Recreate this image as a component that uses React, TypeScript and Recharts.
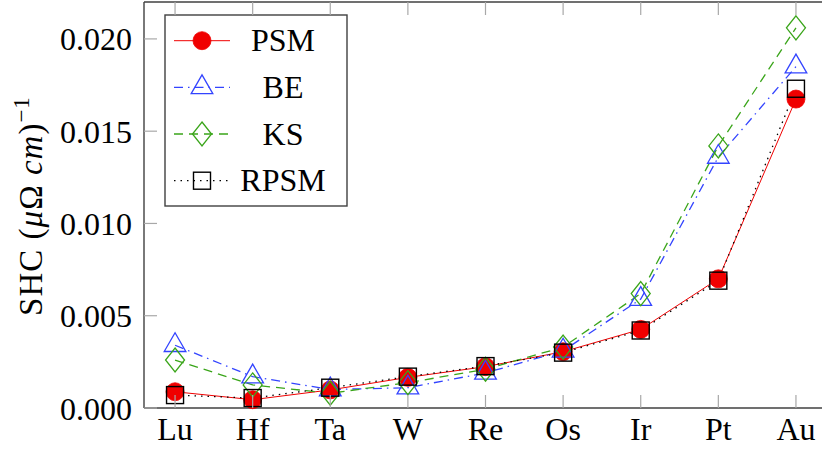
import React from 'react';
import { LineChart, Line, XAxis, YAxis, Customized } from 'recharts';

const categories = ['Lu', 'Hf', 'Ta', 'W', 'Re', 'Os', 'Ir', 'Pt', 'Au'];
const psm = [0.00088, 0.00045, 0.00098, 0.00166, 0.00224, 0.00305, 0.00426, 0.007, 0.01674];
const be = [0.0034, 0.0017, 0.001, 0.0011, 0.0019, 0.0031, 0.0059, 0.0136, 0.0185];
const ks = [0.0026, 0.00125, 0.0008, 0.00137, 0.0021, 0.0033, 0.0062, 0.0142, 0.0206];
const rpsm = [0.0007, 0.00054, 0.0011, 0.0017, 0.00227, 0.003, 0.0042, 0.0069, 0.0173];
const yTicks = [0, 0.005, 0.01, 0.015, 0.02];
const xTicks = categories.map((_, i) => i);

const data = categories.map((c, i) => ({ idx: i, name: c, psm: psm[i], be: be[i], ks: ks[i], rpsm: rpsm[i] }));

const FONT = "'Liberation Serif'";
const FS = 32;
const TXT: React.CSSProperties = { fontFamily: FONT, fontSize: FS };
const RED = '#f00000';
const BLUE = '#3344ff';
const GREEN = '#3aa51a';
const FRAME = '#404040';
const TICK = '#a8a8a8';

type MarkerKind = 'circle' | 'triangle' | 'diamond' | 'square';

const Marker = ({ kind, cx, cy, color }: { kind: MarkerKind; cx: number; cy: number; color: string }) => {
  if (kind === 'circle') return <circle cx={cx} cy={cy} r={9} fill={color} stroke={color} strokeWidth={0.8} />;
  if (kind === 'triangle') {
    const R = 12.5;
    const pts = `${cx},${cy - R} ${cx - R * 0.866},${cy + R / 2} ${cx + R * 0.866},${cy + R / 2}`;
    return <polygon points={pts} fill="none" stroke={color} strokeWidth={1.3} />;
  }
  if (kind === 'diamond') {
    const pts = `${cx},${cy - 12} ${cx + 9.5},${cy} ${cx},${cy + 12} ${cx - 9.5},${cy}`;
    return <polygon points={pts} fill="none" stroke={color} strokeWidth={1.3} />;
  }
  return <rect x={cx - 8.5} y={cy - 8.5} width={17} height={17} fill="none" stroke={color} strokeWidth={1.4} />;
};

const series = [
  { key: 'psm', label: 'PSM', color: RED, kind: 'circle' as MarkerKind, dash: undefined as string | undefined, width: 1 },
  { key: 'be', label: 'BE', color: BLUE, kind: 'triangle' as MarkerKind, dash: '9 5 1.5 5', width: 1.3 },
  { key: 'ks', label: 'KS', color: GREEN, kind: 'diamond' as MarkerKind, dash: '9 6', width: 1.3 },
  { key: 'rpsm', label: 'RPSM', color: '#000', kind: 'square' as MarkerKind, dash: '1.5 5', width: 1.3 },
];

const makeDot = (kind: MarkerKind, color: string) => (props: any) => {
  const { cx, cy, index } = props;
  if (cx == null || cy == null) return <g key={`d-${index}`} />;
  return <Marker key={`d-${kind}-${index}`} kind={kind} cx={cx} cy={cy} color={color} />;
};

const XTickBottom = (props: any) => {
  const { x, y, payload } = props;
  return (
    <g>
      <line x1={x} x2={x} y1={y} y2={y - 13} stroke={TICK} strokeWidth={1.2} />
      <text x={x} y={y + 32} textAnchor="middle" style={TXT} fill="#000">
        {categories[payload.value]}
      </text>
    </g>
  );
};

const XTickTop = (props: any) => {
  const { x, y } = props;
  return <line x1={x} x2={x} y1={y} y2={y + 13} stroke={TICK} strokeWidth={1.2} />;
};

const YTickLeft = (props: any) => {
  const { x, y, payload } = props;
  return (
    <g>
      <line x1={x} x2={x + 13} y1={y} y2={y} stroke={TICK} strokeWidth={1.2} />
      <text x={x - 12} y={y + 11.5} textAnchor="end" style={TXT} fill="#000">
        {Number(payload.value).toFixed(3)}
      </text>
    </g>
  );
};

const YTickRight = (props: any) => {
  const { x, y } = props;
  return <line x1={x} x2={x - 13} y1={y} y2={y} stroke={TICK} strokeWidth={1.2} />;
};

const YLabel = (props: any) => {
  const vb = props.viewBox || {};
  const cy = (vb.y ?? 0) + (vb.height ?? 0) / 2;
  const bx = 41.5;
  return (
    <text
      transform={`translate(${bx},${cy + 1}) rotate(-90)`}
      x={0}
      y={0}
      textAnchor="middle"
      style={{ fontFamily: FONT, fontSize: 33, letterSpacing: 1 }}
      fill="#000"
    >
      <tspan>SHC (</tspan>
      <tspan fontStyle="italic">μ</tspan>
      <tspan>Ω </tspan>
      <tspan fontStyle="italic">cm</tspan>
      <tspan>)</tspan>
      <tspan dy={-13} style={{ fontSize: 23 }}>−1</tspan>
    </text>
  );
};

const LegendBox = () => {
  const rowY = [26.7, 73.4, 120, 166.7];
  return (
    <g transform="translate(164,14)">
      <rect x={1} y={1} width={182} height={191} fill="#fff" stroke={FRAME} strokeWidth={1.4} />
      {series.map((s, i) => (
        <g key={s.key}>
          <line x1={10} x2={66} y1={rowY[i]} y2={rowY[i]} stroke={s.color} strokeWidth={s.width} strokeDasharray={s.dash} />
          <Marker kind={s.kind} cx={38} cy={rowY[i]} color={s.color} />
          <text x={119} y={rowY[i] + 10.5} textAnchor="middle" style={TXT} fill="#000">
            {s.label}
          </text>
        </g>
      ))}
    </g>
  );
};

export default function App() {
  return (
    <div style={{ position: 'absolute', left: 0, top: 0, width: 822, height: 450, overflow: 'hidden', background: '#fff' }}>
      <LineChart width={840} height={450} data={data} margin={{ top: 1, right: 0, bottom: 41, left: 0 }}>
        <XAxis
          xAxisId="bottom"
          dataKey="idx"
          type="number"
          domain={[-0.4, 8.4]}
          ticks={xTicks}
          interval={0}
          tickSize={0}
          tickMargin={0}
          tickLine={false}
          height={1}
          axisLine={{ stroke: FRAME, strokeWidth: 1.4 }}
          tick={<XTickBottom />}
        />
        <XAxis
          xAxisId="top"
          orientation="top"
          dataKey="idx"
          type="number"
          domain={[-0.4, 8.4]}
          ticks={xTicks}
          interval={0}
          tickSize={0}
          tickMargin={0}
          tickLine={false}
          height={1}
          axisLine={{ stroke: FRAME, strokeWidth: 1.4 }}
          tick={<XTickTop />}
        />
        <YAxis
          yAxisId="left"
          type="number"
          domain={[0, 0.022]}
          ticks={yTicks}
          interval={0}
          width={144}
          tickSize={0}
          tickMargin={0}
          tickLine={false}
          axisLine={{ stroke: FRAME, strokeWidth: 1.4 }}
          tick={<YTickLeft />}
          label={<YLabel />}
        />
        <YAxis
          yAxisId="right"
          orientation="right"
          type="number"
          domain={[0, 0.022]}
          ticks={yTicks}
          interval={0}
          width={13}
          tickSize={0}
          tickMargin={0}
          tickLine={false}
          axisLine={{ stroke: FRAME, strokeWidth: 1.4 }}
          tick={<YTickRight />}
        />
        {series.map((s) => (
          <Line
            key={s.key}
            xAxisId="bottom"
            yAxisId="left"
            dataKey={s.key}
            type="linear"
            stroke={s.color}
            strokeWidth={s.width}
            strokeDasharray={s.dash}
            dot={makeDot(s.kind, s.color)}
            activeDot={false}
            isAnimationActive={false}
          />
        ))}
        <Customized component={LegendBox} />
      </LineChart>
    </div>
  );
}
